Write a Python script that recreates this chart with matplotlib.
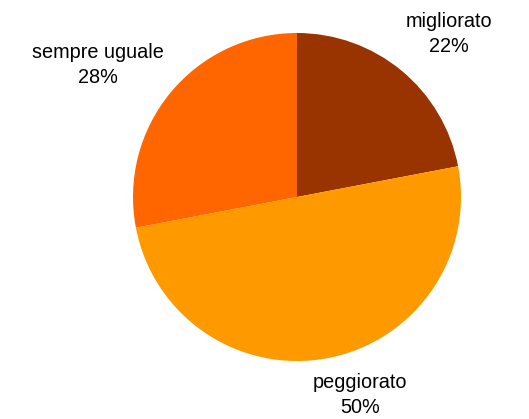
import matplotlib.pyplot as plt

labels = ["migliorato", "peggiorato", "sempre uguale"]
values = [22, 50, 28]
colors = ["#993300", "#FF9900", "#FF6600"]

plt.rcParams["font.family"] = ["Liberation Sans", "DejaVu Sans"]

fig = plt.figure(figsize=(5.29, 4.19), dpi=100)
ax = fig.add_axes([0, 0, 1, 1])

# pie in pixel-like coordinates (y up)
ax.pie(values, colors=colors, startangle=90, counterclock=False,
       center=(297, 222), radius=164, wedgeprops=dict(linewidth=0),
       frame=True)
ax.set_xlim(0, 529)
ax.set_ylim(0, 419)
ax.set_aspect("equal")
ax.axis("off")

# label positions (x, y) in the same coordinates
label_pos = [(449, 385), (360, 24), (98, 354)]
for lab, v, (x, y) in zip(labels, values, label_pos):
    ax.text(x, y, f"{lab}\n{v}%", ha="center", va="center",
            fontsize=14.3, linespacing=1.4, color="black")

fig.savefig("out.png", dpi=100)
